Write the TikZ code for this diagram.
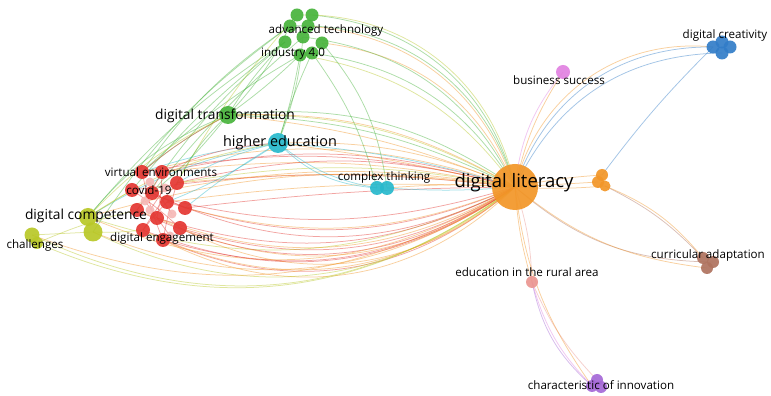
\documentclass[tikz,border=0pt]{standalone}
\usepackage{fontspec}
\setmainfont{Open Sans}
\pgfdeclarelayer{bg}
\pgfsetlayers{bg,main}
\definecolor{cred}{RGB}{228,55,50}
\definecolor{cgreen}{RGB}{72,180,60}
\definecolor{ccyan}{RGB}{40,185,205}
\definecolor{cyel}{RGB}{185,200,40}
\definecolor{corange}{RGB}{242,150,40}
\definecolor{cblue}{RGB}{50,125,200}
\definecolor{cpink}{RGB}{225,130,225}
\definecolor{cbrown}{RGB}{175,115,95}
\definecolor{csalmon}{RGB}{235,150,145}
\definecolor{cpurple}{RGB}{165,105,215}
\begin{document}
\begin{tikzpicture}[x=1pt,y=1pt,
  bub/.style 2 args={circle,inner sep=0pt,minimum size=#1,fill=#2,fill opacity=0.92},
  lab/.style={inner sep=0pt,text=black,font=\fontsize{11.6}{12}\selectfont},
  ed/.style={line width=0.75pt,opacity=0.45}]
\useasboundingbox (0,0) rectangle (771,396);
% ---------- bubbles ----------
\node[bub={46pt}{corange}] (dl) at (515,209) {};
\node[bub={12pt}{corange}] (or1) at (602,221) {};
\node[bub={12pt}{corange}] (or2) at (598,214) {};
\node[bub={11pt}{corange}] (or3) at (605,210) {};
\node[bub={13pt}{cblue}] (dcr1) at (722,354) {};
\node[bub={13pt}{cblue}] (dcr2) at (713,349) {};
\node[bub={13pt}{cblue}] (dcr3) at (730,349) {};
\node[bub={13pt}{cblue}] (dcr4) at (722,343) {};
\node[bub={14pt}{cpink}] (bs) at (563,324) {};
\node[bub={12pt}{cbrown}] (ca1) at (703,138) {};
\node[bub={12pt}{cbrown}] (ca2) at (713,134) {};
\node[bub={12pt}{cbrown}] (ca3) at (707,128) {};
\node[bub={12pt}{csalmon}] (ra) at (532,114) {};
\node[bub={12pt}{cpurple}] (ci1) at (597,16) {};
\node[bub={12pt}{cpurple}] (ci2) at (592,10) {};
\node[bub={12pt}{cpurple}] (ci3) at (601,9) {};
\node[bub={14pt}{ccyan}] (ct1) at (377,208) {};
\node[bub={14pt}{ccyan}] (ct2) at (387,208) {};
\node[bub={20pt}{ccyan}] (he) at (278,253) {};
\node[bub={18pt}{cgreen}] (dt) at (228,281) {};
\node[bub={13pt}{cgreen}] (g1) at (297,381) {};
\node[bub={13pt}{cgreen}] (g2) at (312,381) {};
\node[bub={13pt}{cgreen}] (g3) at (285,354) {};
\node[bub={13pt}{cgreen}] (g4) at (303,359) {};
\node[bub={13pt}{cgreen}] (g5) at (322,353) {};
\node[bub={13pt}{cgreen}] (g6) at (300,341) {};
\node[bub={13pt}{cgreen}] (g7) at (312,343) {};
\node[bub={13pt}{cgreen}] (g8) at (290,370) {};
\node[bub={13pt}{cgreen}] (g9) at (308,370) {};
% pale inner red nodes
\node[bub={9pt}{cred!35}] (p1) at (150,214) {};
\node[bub={9pt}{cred!35}] (p2) at (165,208) {};
\node[bub={9pt}{cred!35}] (p3) at (145,195) {};
\node[bub={9pt}{cred!35}] (p4) at (172,182) {};
\node[bub={9pt}{cred!35}] (p5) at (150,186) {};
\node[bub={9pt}{cred!35}] (p6) at (170,160) {};
\node[bub={14pt}{cred}] (r1) at (142,224) {};
\node[bub={14pt}{cred}] (r2) at (162,224) {};
\node[bub={14pt}{cred}] (r3) at (177,213) {};
\node[bub={14pt}{cred}] (r4) at (132,206) {};
\node[bub={14pt}{cred}] (r5) at (152,203) {};
\node[bub={14pt}{cred}] (r6) at (167,194) {};
\node[bub={14pt}{cred}] (r7) at (185,188) {};
\node[bub={14pt}{cred}] (r8) at (137,186) {};
\node[bub={14pt}{cred}] (r9) at (157,178) {};
\node[bub={14pt}{cred}] (r10) at (180,168) {};
\node[bub={14pt}{cred}] (r11) at (143,166) {};
\node[bub={14pt}{cred}] (r12) at (163,156) {};
\node[bub={18pt}{cyel}] (y1) at (88,179) {};
\node[bub={19pt}{cyel}] (y2) at (93,164) {};
\node[bub={15pt}{cyel}] (ch1) at (32,161) {};
\node[bub={12pt}{cyel}] (ch2) at (37,153) {};
% ---------- labels ----------
\node[lab,font=\fontsize{18.5}{19}\selectfont] (Ldl) at (514,213) {digital literacy};
\node[lab] (Ldcr) at (725,361) {digital creativity};
\node[lab] (Lbs) at (559,316) {business success};
\node[lab] (Lca) at (708,141) {curricular adaptation};
\node[lab] (Lra) at (527,124) {education in the rural area};
\node[lab] (Lci) at (601,11) {characteristic of innovation};
\node[lab] (Lct) at (384,219) {complex thinking};
\node[lab,font=\fontsize{14.4}{15}\selectfont] (Lhe) at (280,253) {higher education};
\node[lab,font=\fontsize{13.8}{14}\selectfont] (Ldt) at (225,280) {digital transformation};
\node[lab] (Lat) at (326,366) {advanced technology};
\node[lab] (Lin) at (293,343) {industry 4.0};
\node[lab] (Lve) at (161,224) {virtual environments};
\node[lab] (Lcv) at (149,206) {covid-19};
\node[lab] (Lde) at (162,158) {digital engagement};
\node[lab,font=\fontsize{13.8}{14}\selectfont] (Ldc) at (86,180) {digital competence};
\node[lab] (Lch) at (35,151) {challenges};
% ---------- edges ----------
\begin{pgfonlayer}{bg}
\fill[white] (0,0) rectangle (771,396);
\foreach \a/\b/\c/\k in {
  r12/dl/cred/32, r11/dl/cred/28, r12/dl/corange/36, r9/dl/corange/30, r10/dl/cred/24,
  r8/dl/corange/26, r6/dl/cred/20, r7/dl/corange/18, y2/dl/cyel/32, y2/dl/corange/28,
  ch2/dl/cyel/30, ch1/dl/corange/26, y1/dl/cyel/22, r10/dl/corange/34, r4/dl/cred/16,
  r5/dl/cred/26, r11/dl/corange/33, r8/dl/cred/30, y1/dl/corange/27, r9/dl/cred/22,
  ch1/dl/cyel/31, r12/dl/cred/25,
  r1/dl/cred/-12, r2/dl/corange/-9, r3/dl/cred/-14, r5/dl/corange/-10, y1/dl/corange/-12,
  r4/dl/cred/-7, r3/dl/corange/-6, r7/dl/cred/-3, r1/dl/corange/-16, r2/dl/cred/-14,
  r3/dl/cyel/-10, r6/dl/corange/-5,
  he/dl/ccyan/-6, he/dl/corange/-3, he/dl/corange/-12, he/ct1/ccyan/14, he/ct1/ccyan/20,
  ct2/dl/corange/-4, ct2/dl/ccyan/4, dt/dl/cgreen/-12, dt/dl/corange/-8, dt/dl/cyel/-15,
  dt/dl/cgreen/-20, dt/dl/corange/-16,
  g2/dl/cgreen/-35, g5/dl/corange/-30, g1/dl/cyel/-40, g7/dl/cgreen/-25, g9/dl/corange/-33,
  g4/dl/cgreen/-28, g6/dl/cyel/-22, g8/dl/cgreen/-38,
  g3/y1/cgreen/8, g8/y2/cgreen/10, g6/r1/cgreen/6, g3/dt/cgreen/6, g4/r5/cgreen/5,
  g6/he/cgreen/-4, g7/he/cgreen/4, g7/ct1/cgreen/-10, g5/ct2/cgreen/-16, g1/r3/cyel/6,
  g8/dt/cgreen/-8, g3/r8/cgreen/8, g6/dt/cgreen/-4, g3/r4/cgreen/6, g8/r1/cgreen/10,
  g4/he/cgreen/-8,
  dt/r3/cgreen/10, dt/y1/cgreen/14, he/r3/ccyan/8, he/y1/ccyan/10, he/r7/ccyan/4,
  he/r6/ccyan/-6, dt/r1/cgreen/6, dt/r5/cgreen/-6, he/r1/ccyan/6,
  r2/he/cred/-10, r1/dt/cred/-6, y1/he/cyel/-12, y1/dt/cyel/-10,
  dl/bs/corange/-10, dl/bs/cpink/-16, dl/dcr2/cblue/-36, dl/dcr2/corange/-41, dl/dcr4/cblue/-32,
  dcr2/or1/cblue/4, dl/or2/corange/0, dl/or1/corange/-4, dl/or3/corange/4,
  or3/ca1/cbrown/-10, or3/ca1/corange/-14, dl/ca2/cbrown/20, dl/ca3/corange/16,
  dl/ra/csalmon/-8, dl/ra/corange/6, ra/ci2/cpink/14, ra/ci2/cpurple/18, ra/ci1/csalmon/10,
  dl/ci2/corange/14,
  ch1/y2/cyel/0, ch2/r8/cyel/-5, y1/r4/cyel/0, y2/r11/cyel/4,
  r1/r12/cred/5, r2/r8/cred/-5, r3/r11/cred/4, r4/r10/cred/-4, r5/r7/cred/0, r6/r11/cred/3,
  r9/r2/cred/4, r12/r3/cred/-3, p1/p4/cred/0, p2/p5/cred/0, p3/p6/cred/0}
  \draw[ed,\c] (\a.center) to[bend right=\k] (\b.center);
\end{pgfonlayer}
\end{tikzpicture}
\end{document}
